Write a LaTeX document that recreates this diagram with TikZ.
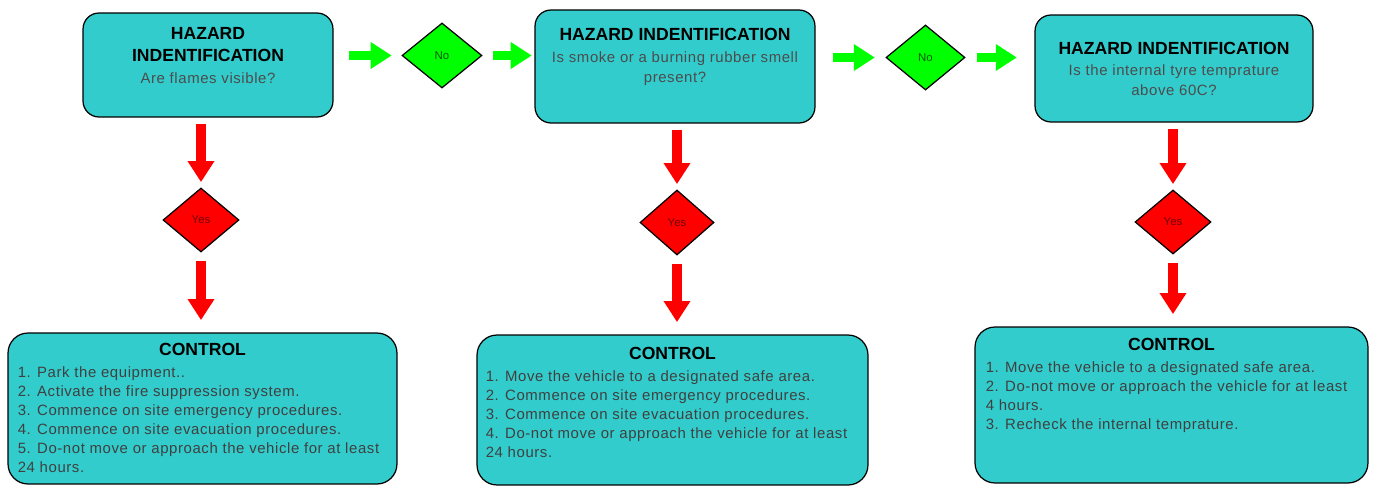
\documentclass[tikz,border=0pt]{standalone}
\usepackage{fontspec}
\setmainfont{Liberation Sans}
\newfontfamily\widesans[LetterSpace=4.0]{Liberation Sans}
\usetikzlibrary{positioning,shapes.geometric,arrows.meta,calc}
\definecolor{boxteal}{HTML}{33CCCC}
\definecolor{nogreen}{HTML}{00FF00}
\definecolor{yesred}{HTML}{FF0000}
\begin{document}
\begin{tikzpicture}[x=0.02cm, y=-0.02cm,
  hazbox/.style={draw=black, line width=0.7pt, fill=boxteal, rounded corners=0.32cm},
  ctrlbox/.style={hazbox, rounded corners=0.4cm},
  nodiam/.style={diamond, draw=black, line width=0.7pt, fill=nogreen, inner sep=0pt,
    font=\fontsize{6.5}{7}\selectfont, text=green!35!black},
  yesdiam/.style={nodiam, fill=yesred, text=red!45!black},
  titletext/.style={inner sep=0pt, align=center, font=\fontsize{10}{12.5}\selectfont\bfseries},
  asktext/.style={inner sep=0pt, align=center, font=\widesans\fontsize{8.5}{11.3}\selectfont, text=black!70},
  itemtext/.style={inner sep=0pt, align=left, font=\widesans\fontsize{8.5}{10.8}\selectfont, text=black!75},
  goarrow/.style={-{Triangle[length=12pt,width=14.5pt]}, line width=5.5pt, color=nogreen},
  stoparrow/.style={goarrow, color=yesred},
]
  \useasboundingbox (0,0) rectangle (1373,486);
  % hazard boxes
  \node[hazbox, minimum width=5cm, minimum height=2.08cm] (h1) at (208,65) {};
  \node[hazbox, minimum width=5.6cm, minimum height=2.26cm] (h2) at (675,66.5) {};
  \node[hazbox, minimum width=5.56cm, minimum height=2.14cm] (h3) at (1174,68.5) {};
  \node[titletext, below=0.3cm of h1.north] (t1) {HAZARD\\INDENTIFICATION};
  \node[asktext, below=0.2cm of t1] (q1) {Are flames visible?};
  \node[titletext, below=0.36cm of h2.north] (t2) {HAZARD INDENTIFICATION};
  \node[asktext, below=0.22cm of t2] (q2) {Is smoke or a burning rubber smell\\present?};
  \node[titletext, below=0.54cm of h3.north] (t3) {HAZARD INDENTIFICATION};
  \node[asktext, below=0.2cm of t3] (q3) {Is the internal tyre temprature\\above 60C?};
  % decisions
  \node[nodiam, minimum width=1.6cm, minimum height=1.3cm] (no1) at (442,55.5) {No};
  \node[nodiam, minimum width=1.58cm, minimum height=1.3cm] (no2) at (925.5,57.5) {No};
  \node[yesdiam, minimum width=1.52cm, minimum height=1.28cm] (yes1) at (201,220) {Yes};
  \node[yesdiam, minimum width=1.48cm, minimum height=1.3cm] (yes2) at (677,222.5) {Yes};
  \node[yesdiam, minimum width=1.52cm, minimum height=1.28cm] (yes3) at (1173,222) {Yes};
  % control boxes
  \node[ctrlbox, minimum width=7.78cm, minimum height=3.02cm] (c1) at (202.5,408.5) {};
  \node[ctrlbox, minimum width=7.82cm, minimum height=3cm] (c2) at (672.5,410) {};
  \node[ctrlbox, minimum width=7.86cm, minimum height=3.12cm] (c3) at (1171.5,405) {};
  \node[titletext, below=0.2cm of c1.north] (ct1) {CONTROL};
  \node[titletext, below=0.24cm of c2.north] (ct2) {CONTROL};
  \node[titletext, below=0.22cm of c3.north] (ct3) {CONTROL};
  \node[itemtext, anchor=north west] (i1) at ($(c1.west |- ct1.south)+(10,11)$)
    {1. Park the equipment..\\2. Activate the fire suppression system.\\
     3. Commence on site emergency procedures.\\4. Commence on site evacuation procedures.\\
     5. Do-not move or approach the vehicle for at least\\24 hours.};
  \node[itemtext, anchor=north west] (i2) at ($(c2.west |- ct2.south)+(9,11)$)
    {1. Move the vehicle to a designated safe area.\\2. Commence on site emergency procedures.\\
     3. Commence on site evacuation procedures.\\
     4. Do-not move or approach the vehicle for at least\\24 hours.};
  \node[itemtext, anchor=north west] (i3) at ($(c3.west |- ct3.south)+(11,11)$)
    {1. Move the vehicle to a designated safe area.\\
     2. Do-not move or approach the vehicle for at least\\4 hours.\\
     3. Recheck the internal temprature.};
  % no path
  \draw[goarrow, shorten <=8.5pt, shorten >=5.5pt] (h1.east |- no1.west) -- (no1.west);
  \draw[goarrow, shorten <=6pt, shorten >=1.5pt] (no1.east) -- (no1.east -| h2.west);
  \draw[goarrow, shorten <=10pt, shorten >=6pt] (h2.east |- no2.west) -- (no2.west);
  \draw[goarrow, shorten <=6.5pt, shorten >=10pt] (no2.east) -- (no2.east -| h3.west);
  % yes path
  \foreach \i in {1,2,3} {
    \draw[stoparrow, shorten <=3.5pt, shorten >=3pt] (yes\i.north |- h\i.south) -- (yes\i.north);
    \draw[stoparrow, shorten <=5pt, shorten >=7pt] (yes\i.south) -- (yes\i.south |- c\i.north);
  }
\end{tikzpicture}
\end{document}
